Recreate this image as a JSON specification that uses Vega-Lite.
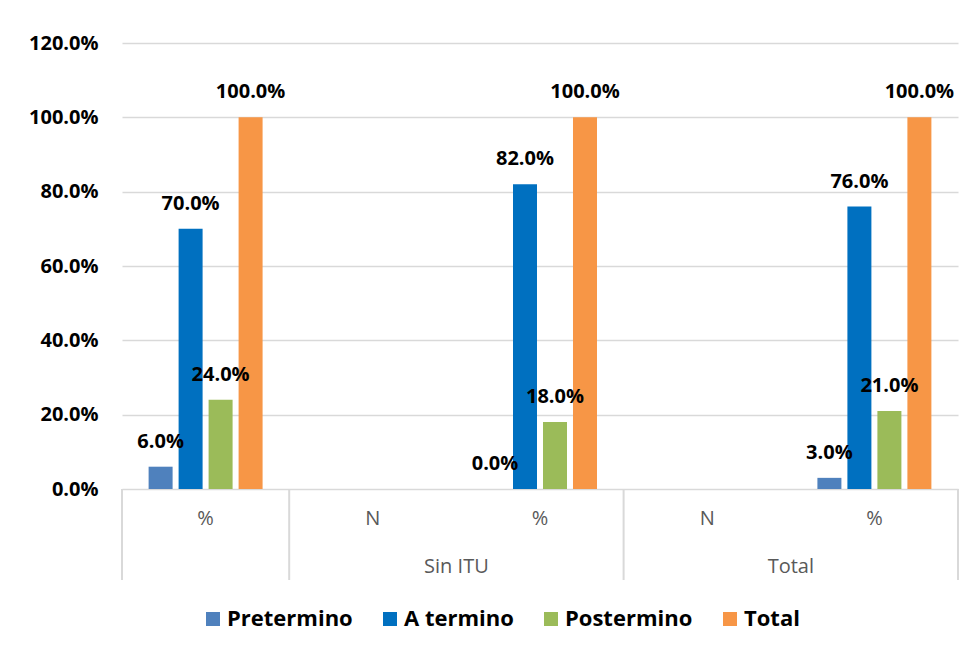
{
  "$schema": "https://vega.github.io/schema/vega-lite/v6.json",
  "background": "white",
  "padding": {"left": 28, "top": 33, "right": 0, "bottom": 0},
  "config": {
    "font": "Open Sans",
    "view": {"stroke": null}
  },
  "datasets": {
    "barras": [
      {"categoria": "Con ITU %", "serie": "Pretermino", "valor": 0.06},
      {"categoria": "Con ITU %", "serie": "A termino", "valor": 0.70},
      {"categoria": "Con ITU %", "serie": "Postermino", "valor": 0.24},
      {"categoria": "Con ITU %", "serie": "Total", "valor": 1.00},
      {"categoria": "Sin ITU %", "serie": "Pretermino", "valor": 0.00},
      {"categoria": "Sin ITU %", "serie": "A termino", "valor": 0.82},
      {"categoria": "Sin ITU %", "serie": "Postermino", "valor": 0.18},
      {"categoria": "Sin ITU %", "serie": "Total", "valor": 1.00},
      {"categoria": "Total %", "serie": "Pretermino", "valor": 0.03},
      {"categoria": "Total %", "serie": "A termino", "valor": 0.76},
      {"categoria": "Total %", "serie": "Postermino", "valor": 0.21},
      {"categoria": "Total %", "serie": "Total", "valor": 1.00}
    ],
    "etiquetas": [
      {"categoria": "Con ITU %", "texto": "%", "nivel": "medida"},
      {"categoria": "Sin ITU N", "texto": "N", "nivel": "medida"},
      {"categoria": "Sin ITU %", "texto": "%", "nivel": "medida"},
      {"categoria": "Total N", "texto": "N", "nivel": "medida"},
      {"categoria": "Total %", "texto": "%", "nivel": "medida"},
      {"categoria": "Sin ITU %", "texto": "Sin ITU", "nivel": "grupo"},
      {"categoria": "Total %", "texto": "Total", "nivel": "grupo"}
    ],
    "divisiones": [
      {"categoria": "Con ITU %", "borde": "inicio"},
      {"categoria": "Sin ITU N", "borde": "inicio"},
      {"categoria": "Total N", "borde": "inicio"},
      {"categoria": "Total %", "borde": "fin"}
    ]
  },
  "vconcat": [
    {
      "width": 836,
      "height": 446,
      "data": {"name": "barras"},
      "encoding": {
        "x": {
          "field": "categoria",
          "type": "nominal",
          "scale": {
            "domain": ["Con ITU %", "Sin ITU N", "Sin ITU %", "Total N", "Total %"],
            "paddingInner": 0,
            "paddingOuter": 0
          },
          "axis": null
        },
        "xOffset": {
          "field": "serie",
          "type": "nominal",
          "scale": {
            "domain": ["Pretermino", "A termino", "Postermino", "Total"],
            "paddingInner": 0.2,
            "paddingOuter": 0.887
          }
        },
        "y": {
          "field": "valor",
          "type": "quantitative",
          "scale": {"domain": [0, 1.2], "nice": false},
          "axis": {
            "values": [0, 0.2, 0.4, 0.6, 0.8, 1.0, 1.2],
            "format": ".1%",
            "title": null,
            "domain": false,
            "ticks": false,
            "tickSize": 0,
            "labelPadding": 24,
            "labelFontWeight": "bold",
            "labelFontSize": 20,
            "labelColor": "black",
            "gridColor": "#d9d9d9",
            "gridWidth": 1.3
          }
        }
      },
      "layer": [
        {
          "mark": {"type": "bar"},
          "encoding": {
            "color": {
              "field": "serie",
              "type": "nominal",
              "scale": {
                "domain": ["Pretermino", "A termino", "Postermino", "Total"],
                "range": ["#4f81bd", "#0070c0", "#9bbb59", "#f79646"]
              },
              "legend": {
                "orient": "none",
                "legendX": 80,
                "legendY": 565,
                "direction": "horizontal",
                "title": null,
                "symbolType": "square",
                "symbolSize": 196,
                "symbolStrokeWidth": 0,
                "symbolOpacity": 1,
                "labelFontSize": 22,
                "labelFontWeight": "bold",
                "labelColor": "black",
                "labelOffset": 3,
                "columnPadding": 26,
                "labelLimit": 300
              }
            }
          }
        },
        {
          "mark": {
            "type": "text",
            "baseline": "middle",
            "dy": -25,
            "fontSize": 20,
            "fontWeight": "bold",
            "color": "black"
          },
          "encoding": {
            "text": {"field": "valor", "type": "quantitative", "format": ".1%"}
          }
        }
      ]
    },
    {
      "width": 836,
      "height": 91,
      "layer": [
        {
          "data": {"name": "divisiones"},
          "transform": [{"filter": "datum.borde === 'inicio'"}],
          "mark": {"type": "rule", "color": "#d9d9d9", "strokeWidth": 2},
          "encoding": {
            "x": {
              "field": "categoria",
              "type": "nominal",
              "bandPosition": 0,
              "scale": {
                "domain": ["Con ITU %", "Sin ITU N", "Sin ITU %", "Total N", "Total %"],
                "paddingInner": 0,
                "paddingOuter": 0
              },
              "axis": null
            }
          }
        },
        {
          "data": {"name": "divisiones"},
          "transform": [{"filter": "datum.borde === 'fin'"}],
          "mark": {"type": "rule", "color": "#d9d9d9", "strokeWidth": 2},
          "encoding": {
            "x": {"field": "categoria", "type": "nominal", "bandPosition": 1, "axis": null}
          }
        },
        {
          "data": {"name": "etiquetas"},
          "transform": [{"filter": "datum.nivel === 'medida'"}],
          "mark": {"type": "text", "baseline": "middle", "fontSize": 20, "color": "#595959"},
          "encoding": {
            "x": {"field": "categoria", "type": "nominal", "axis": null},
            "y": {
              "field": "nivel",
              "type": "nominal",
              "scale": {"type": "point", "domain": ["medida", "grupo"], "range": [30, 78], "padding": 0},
              "axis": null
            },
            "text": {"field": "texto"}
          }
        },
        {
          "data": {"name": "etiquetas"},
          "transform": [{"filter": "datum.nivel === 'grupo'"}],
          "mark": {"type": "text", "baseline": "middle", "fontSize": 20, "color": "#595959"},
          "encoding": {
            "x": {"field": "categoria", "type": "nominal", "bandPosition": 0, "axis": null},
            "y": {"field": "nivel", "type": "nominal", "axis": null},
            "text": {"field": "texto"}
          }
        }
      ]
    }
  ],
  "spacing": 0,
  "bounds": "flush"
}
